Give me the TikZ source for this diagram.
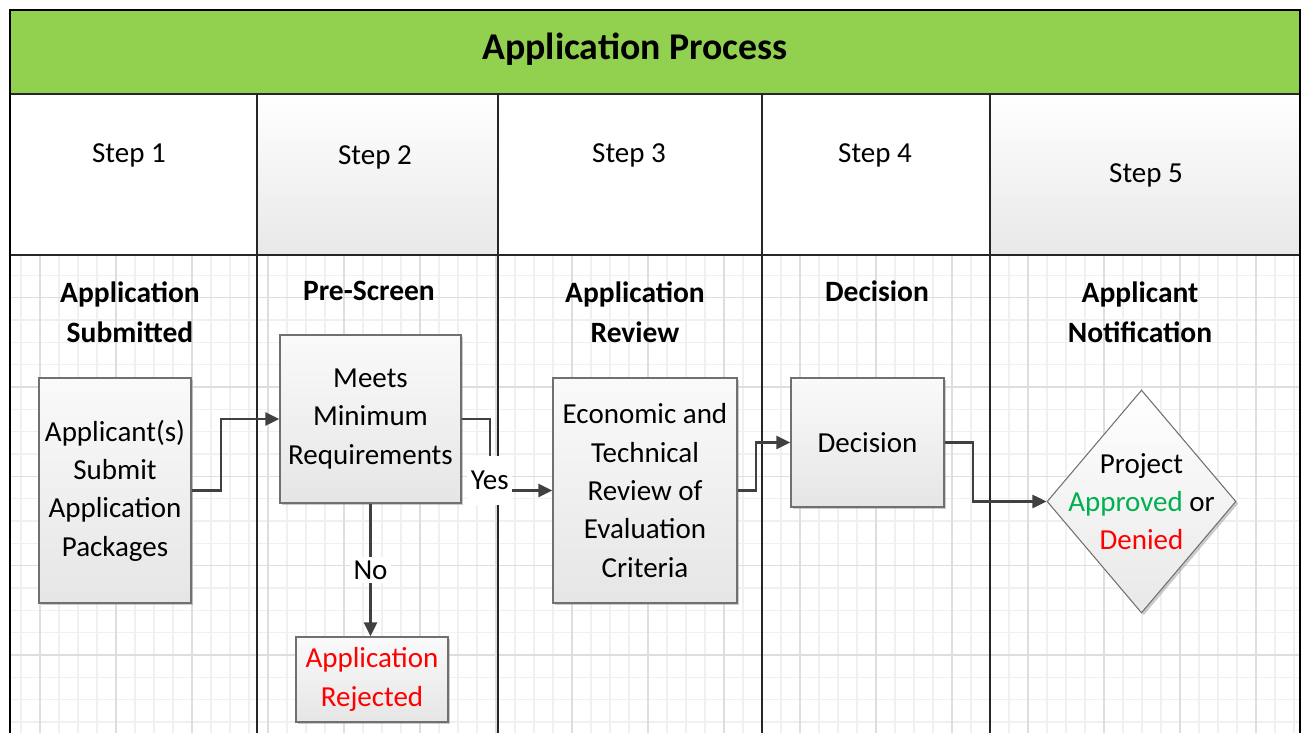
\documentclass[tikz,border=0pt]{standalone}
\usepackage{fontspec}
\setmainfont{Carlito}
\usepackage{tikz}
\usetikzlibrary{arrows.meta, calc, shadows, shapes.geometric}
\definecolor{titlegreen}{HTML}{92D050}
\definecolor{okgreen}{HTML}{00B050}
\definecolor{nored}{HTML}{FF0000}
\definecolor{flowgray}{HTML}{404040}
\definecolor{boxedge}{HTML}{707070}
\tikzset{
  frame/.style    ={draw=black, line width=1.4pt},
  laneline/.style ={draw=black!85, line width=0.9pt},
  gridminor/.style={draw=black!6, line width=0.7pt},
  gridmajor/.style={draw=black!13, line width=0.8pt},
  steptxt/.style  ={font=\fontsize{16.5}{20}\selectfont},
  lanetxt/.style  ={font=\fontsize{16.8}{22.5}\selectfont\bfseries, align=center},
  proc/.style     ={draw=boxedge, line width=0.8pt, top color=black!2, bottom color=black!10,
                    drop shadow={shadow xshift=1.3pt, shadow yshift=-1.3pt, fill=black!40, opacity=0.5},
                    align=center, inner sep=0pt, font=\fontsize{16.5}{21.8}\selectfont},
  decide/.style   ={diamond, draw=boxedge, line width=0.6pt, top color=white, bottom color=black!9,
                    drop shadow={shadow xshift=1.3pt, shadow yshift=-1.3pt, fill=black!40, opacity=0.5},
                    align=center, inner sep=-0.4cm, font=\fontsize{16.5}{21.8}\selectfont},
  flow/.style     ={-{Triangle[length=8pt, width=7.5pt]}, draw=flowgray, line width=1.2pt}, % process flow
  lbl/.style      ={fill=white, inner sep=2pt, font=\fontsize{16.5}{20}\selectfont},
}

\begin{document}
\begin{tikzpicture}[x=0.02cm, y=-0.02cm]
  \useasboundingbox (0,0) rectangle (1302,733);

  % grid behind the lanes
  \foreach \x in {21,40,...,1300} \draw[gridminor] (\x,255) -- (\x,733);
  \foreach \y in {275.43,297.76,...,733} \draw[gridminor] (10,\y) -- (1300,\y);
  \foreach \x in {40,116,...,1300} \draw[gridmajor] (\x,255) -- (\x,733);
  \foreach \y in {297.7,387.03,...,733} \draw[gridmajor] (10,\y) -- (1300,\y);

  % header band and step row
  \fill[titlegreen] (10,10) rectangle (1300,94);
  \shade[top color=white, bottom color=black!9] (257,94) rectangle (498,255);
  \shade[top color=white, bottom color=black!9] (990,94) rectangle (1300,255);
  \draw[laneline] (10,94) -- (1300,94);
  \draw[laneline] (10,255) -- (1300,255);
  \foreach \x in {257,498,762,990} \draw[laneline] (\x,94) -- (\x,733);
  \draw[frame] (10,733) -- (10,10) -- (1300,10) -- (1300,733);

  \node[font=\fontsize{21.5}{26}\selectfont\bfseries] (title) at (635,49) {Application Process};

  \node[steptxt] (s1) at (129,155)  {Step 1};
  \node[steptxt] (s2) at (375,157)  {Step 2};
  \node[steptxt] (s3) at (629,155)  {Step 3};
  \node[steptxt] (s4) at (875,155)  {Step 4};
  \node[steptxt] (s5) at (1146,175) {Step 5};

  \node[lanetxt] (l1) at (130,312)  {Application\\Submitted};
  \node[lanetxt] (l2) at (369,291)  {Pre-Screen};
  \node[lanetxt] (l3) at (635,312)  {Application\\Review};
  \node[lanetxt] (l4) at (877,291)  {Decision};
  \node[lanetxt] (l5) at (1140,312) {Applicant\\Notification};

  % process boxes
  \node[proc, minimum width=3.04cm, minimum height=4.5cm]  (submit) at (115,490.5)
    {Applicant(s)\\Submit\\Application\\Packages};
  \node[proc, minimum width=3.62cm, minimum height=3.36cm] (screen) at (370.5,419)
    {Meets\\Minimum\\Requirements};
  \node[proc, minimum width=3.04cm, minimum height=1.7cm, text=nored] (reject) at (372,679.5)
    {Application\\Rejected};
  \node[proc, minimum width=3.68cm, minimum height=4.5cm]  (review) at (645,490.5)
    {Economic and\\Technical\\Review of\\Evaluation\\Criteria};
  \node[proc, minimum width=3.06cm, minimum height=2.58cm] (decide) at (867.5,442.5)
    {Decision};
  \node[decide, minimum width=3.78cm, minimum height=4.46cm] (notify) at (1141.5,501.5)
    {Project\\\textcolor{okgreen}{Approved} or\\\textcolor{nored}{Denied}};

  % connectors
  \draw[flow] (submit.east) -- ++(29,0) |- (screen.west);
  \draw[flow] (screen.east) -- ++(28,0) |- (review.west)
    node[lbl, pos=0.5, yshift=0.2cm, minimum height=1cm] (yes) {Yes};
  \draw[flow] (screen.south) -- (screen.south |- reject.north)
    node[lbl, midway] (no) {No};
  \draw[flow] (review.east) -- ++(18,0) |- (decide.west);
  \draw[flow] (decide.east) -- ++(28,0) |- (notify.west);
\end{tikzpicture}
\end{document}
